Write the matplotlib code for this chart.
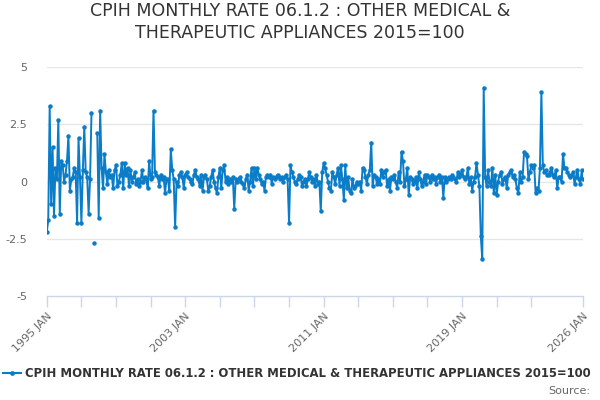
import numpy as np
import matplotlib
matplotlib.use("Agg")
import matplotlib.pyplot as plt
from matplotlib.lines import Line2D

nan = np.nan
start_year = 1995
title = "CPIH MONTHLY RATE 06.1.2 : OTHER MEDICAL &\nTHERAPEUTIC APPLIANCES 2015=100"
series_name = "CPIH MONTHLY RATE 06.1.2 : OTHER MEDICAL & THERAPEUTIC APPLIANCES 2015=100"

rate_1995_2002 = [
    -2.2, -1.7, 3.3, -1.0, 1.5, -1.5, 0.6, 0.1, 2.7, -1.4, 0.9, 0.7,
    0.0, 0.3, 0.9, 2.0, -0.4, 0.1, 0.2, 0.6, 0.4, -1.8, 1.9, 0.2,
    -1.8, 0.5, 2.4, 0.4, 0.2, -1.4, 0.1, 3.0, nan, -2.7, nan, 2.1,
    -1.6, 3.1, 0.6, -0.3, 1.2, 0.4, -0.1, 0.5, 0.2, 0.3, -0.3, 0.5,
    0.7, -0.2, 0.0, 0.3, 0.8, -0.3, 0.8, 0.3, 0.6, -0.2, 0.5, 0.0,
    0.2, 0.4, -0.1, 0.1, -0.2, 0.0, 0.5, 0.0, 0.2, 0.1, -0.3, 0.9,
    0.1, 0.2, 3.1, 0.4, 0.3, 0.2, -0.2, 0.3, 0.1, 0.2, -0.5, 0.1,
    0.1, -0.4, 1.4, 0.5, 0.1, -2.0, 0.0, -0.2, 0.3, 0.4, 0.2, -0.3,
]
rate_2003_2010 = [
    0.3, 0.4, 0.2, 0.1, 0.0, -0.1, 0.3, 0.5, 0.2, 0.1, -0.2, 0.3,
    -0.4, 0.2, 0.3, 0.1, -0.4, -0.2, 0.2, 0.5, 0.0, -0.3, -0.5, 0.2,
    0.6, -0.3, 0.5, 0.7, 0.0, 0.2, -0.1, 0.1, 0.0, 0.2, -1.2, 0.1,
    0.0, 0.1, 0.2, 0.0, -0.1, -0.3, 0.1, 0.3, -0.4, 0.0, 0.6, -0.2,
    0.6, 0.1, 0.6, 0.3, 0.1, -0.1, 0.0, -0.4, 0.2, 0.3, 0.2, 0.3,
    -0.1, 0.2, 0.1, 0.2, 0.3, 0.2, 0.1, 0.2, 0.0, 0.2, 0.3, 0.1,
    -1.8, 0.7, 0.4, 0.2, 0.0, -0.1, 0.1, 0.3, 0.2, -0.2, 0.0, 0.1,
    -0.2, 0.1, 0.4, 0.2, 0.0, 0.1, -0.2, 0.3, -0.1, 0.0, -1.3, 0.4,
]
rate_2011_2018 = [
    0.8, 0.6, 0.3, 0.0, -0.3, -0.4, 0.4, 0.2, -0.1, 0.3, 0.6, -0.2,
    0.7, 0.1, -0.8, 0.7, -0.3, 0.2, -0.4, -0.5, 0.1, -0.3, -0.2, 0.0,
    -0.1, 0.0, -0.4, 0.6, 0.5, 0.2, -0.1, 0.3, 0.5, 1.7, -0.2, 0.3,
    0.2, -0.1, 0.1, -0.1, 0.5, 0.2, 0.4, 0.5, -0.2, 0.1, -0.4, 0.2,
    0.1, 0.3, 0.0, -0.3, 0.4, 0.0, 1.3, 0.9, -0.2, 0.1, 0.6, -0.6,
    0.2, 0.1, -0.1, 0.0, 0.2, -0.3, 0.4, 0.1, -0.2, 0.0, 0.3, -0.1,
    0.3, 0.2, 0.0, 0.3, 0.1, 0.2, -0.1, 0.2, 0.3, 0.0, 0.2, -0.7,
    0.2, 0.0, 0.1, 0.2, 0.1, 0.3, 0.2, 0.1, 0.0, 0.4, 0.2, 0.3,
]
rate_2019_2026 = [
    0.5, 0.2, 0.1, 0.2, 0.6, -0.1, 0.2, -0.4, 0.0, 0.2, 0.8, 0.3,
    -0.2, -2.4, -3.4, 4.1, 0.2, -0.2, 0.5, 0.0, -0.2, 0.6, -0.5, 0.3,
    -0.6, 0.0, 0.3, 0.4, -0.1, 0.1, 0.2, -0.3, 0.3, 0.4, 0.5, 0.2,
    0.3, 0.1, -0.3, -0.5, 0.4, 0.0, 0.2, 1.3, 1.2, 1.1, 0.1, 0.4,
    0.7, 0.6, 0.7, -0.5, -0.3, -0.4, 0.6, 3.9, 0.7, 0.4, 0.5, 0.3,
    0.3, 0.4, 0.6, 0.3, 0.2, 0.5, -0.3, 0.2, 0.2, 0.0, 1.2, 0.6,
    0.6, 0.4, 0.3, 0.2, 0.3, 0.4, -0.1, 0.2, 0.5, 0.1, -0.1, 0.5,
    0.1,
]
y_ticks = [-5, -2.5, 0, 2.5, 5]
y_tick_labels = ["-5", "-2.5", "0", "2.5", "5"]
x_tick_years = [1995, 1997, 1999, 2001, 2003, 2005, 2007, 2009, 2011, 2013,
                2015, 2017, 2019, 2021, 2023, 2026]
x_label_years = [1995, 2003, 2011, 2019, 2026]

rate = np.array(rate_1995_2002 + rate_2003_2010 + rate_2011_2018 + rate_2019_2026, dtype=float)
x = start_year + np.arange(len(rate)) / 12.0

color = "#0a7cc8"
fig = plt.figure(figsize=(6, 4), dpi=100)
ax = fig.add_axes([0.078, 0.26, 0.894, 0.5725])

for yv in y_ticks:
    if yv != -5:
        ax.axhline(yv, color="#e6e6e6", lw=1, zorder=0)

ax.plot(x, rate, color=color, lw=1.4, marker="o", ms=2.2, zorder=3)

ax.set_ylim(-5, 5)
ax.set_xlim(1995, 2026)
ax.set_yticks(y_ticks)
ax.set_yticklabels(y_tick_labels, color="#666666", fontsize=8)
ax.tick_params(axis="y", length=0, pad=14)

ax.set_xticks(x_tick_years)
ax.set_xticklabels([f"{y} JAN" if y in x_label_years else "" for y in x_tick_years],
                   rotation=45, ha="right", rotation_mode="anchor",
                   color="#666666", fontsize=8)
ax.tick_params(axis="x", length=8, color="#ccd6eb", width=1, pad=3)

for s in ["top", "right", "left"]:
    ax.spines[s].set_visible(False)
ax.spines["bottom"].set_color("#ccd6eb")
ax.spines["bottom"].set_linewidth(1)

fig.text(0.5, 0.945, title, ha="center", va="center", fontsize=12.5,
         color="#333333", linespacing=1.25)

handle = Line2D([0], [0], color=color, lw=1.5, marker="o", ms=2.4)
fig.legend([handle], [series_name], loc="center left",
           bbox_to_anchor=(-0.012, 0.067), frameon=False,
           prop={"weight": "bold", "size": 8.4}, handlelength=1.5,
           handletextpad=0.4, labelcolor="#333333")

fig.text(0.983, 0.022, "Source:", ha="right", va="center", fontsize=8,
         color="#666666")

fig.savefig("out.png", dpi=100)
